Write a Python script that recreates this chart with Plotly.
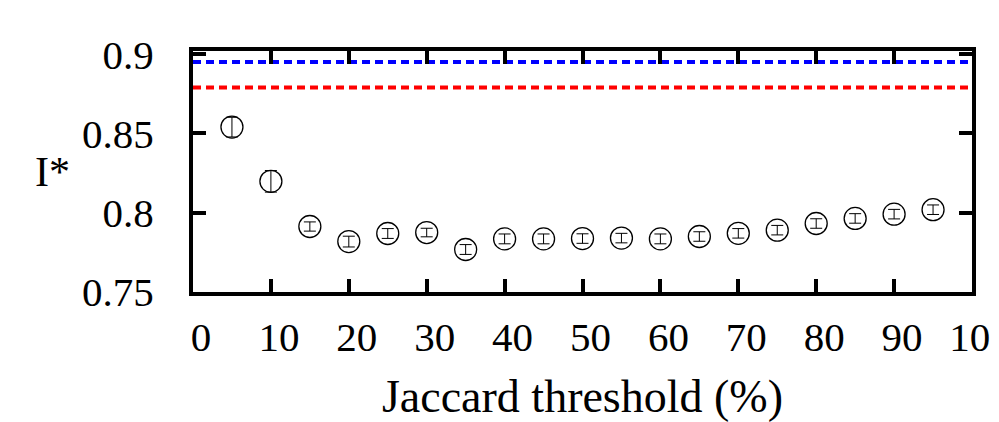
import plotly.graph_objects as go

thresholds = [5, 10, 15, 20, 25, 30, 35, 40, 45, 50, 55, 60, 65, 70, 75, 80, 85, 90, 95]
i_star = [0.8540, 0.8198, 0.7913, 0.7818, 0.7869, 0.7875, 0.7768, 0.7835, 0.7835,
          0.7837, 0.7840, 0.7835, 0.7850, 0.7870, 0.7890, 0.7932, 0.7964, 0.7991, 0.8019]
i_err = [0.0062, 0.0068, 0.0029, 0.0034, 0.0031, 0.0027, 0.0031, 0.0031, 0.0031,
         0.0030, 0.0030, 0.0031, 0.0030, 0.0030, 0.0030, 0.0030, 0.0030, 0.0030, 0.0030]

ref_x = [0, 100]
blue_ref = 0.895
red_ref = 0.879

x_ticks = [0, 10, 20, 30, 40, 50, 60, 70, 80, 90, 100]
y_ticks = [0.75, 0.8, 0.85, 0.9]
y_tick_text = ["0.75", "0.8", "0.85", "0.9"]

FONT = "Liberation Serif"

fig = go.Figure()
fig.add_trace(go.Scatter(x=ref_x, y=[blue_ref, blue_ref], mode="lines",
                         line=dict(color="#0000ff", width=4, dash="8px,5px"),
                         showlegend=False, hoverinfo="skip"))
fig.add_trace(go.Scatter(x=ref_x, y=[red_ref, red_ref], mode="lines",
                         line=dict(color="#ff0000", width=4, dash="8px,5px"),
                         showlegend=False, hoverinfo="skip"))
fig.add_trace(go.Scatter(x=thresholds, y=i_star, mode="markers",
                         marker=dict(symbol="circle-open", size=22, color="black",
                                     line=dict(width=1.3, color="black")),
                         error_y=dict(type="data", array=i_err, visible=True,
                                      color="black", thickness=1, width=6),
                         showlegend=False))

axis_common = dict(showline=True, linewidth=4, linecolor="black", mirror="ticks",
                   ticks="inside", ticklen=13, tickwidth=4, tickcolor="black",
                   showgrid=False, zeroline=False, automargin=False,
                   ticklabeloverflow="allow",
                   tickfont=dict(family=FONT, size=41, color="black"))

fig.update_layout(
    width=991, height=414,
    margin=dict(l=185, r=27, t=43, b=130),
    paper_bgcolor="white", plot_bgcolor="white",
    xaxis=dict(range=[0, 100], tickvals=x_ticks, ticklabelshift=8, ticklabelstandoff=6,
               title=dict(text="Jaccard threshold (%)", font=dict(family=FONT, size=46, color="black"),
                          standoff=27),
               **axis_common),
    yaxis=dict(range=[0.75, 0.902], tickvals=y_ticks, ticktext=y_tick_text,
               ticklabelstandoff=27, **axis_common),
    annotations=[dict(text="I*", xref="paper", yref="paper", x=-0.155, y=0.5,
                      xanchor="right", yanchor="middle", showarrow=False,
                      font=dict(family=FONT, size=42, color="black"))],
)

fig.write_html("out.html")
